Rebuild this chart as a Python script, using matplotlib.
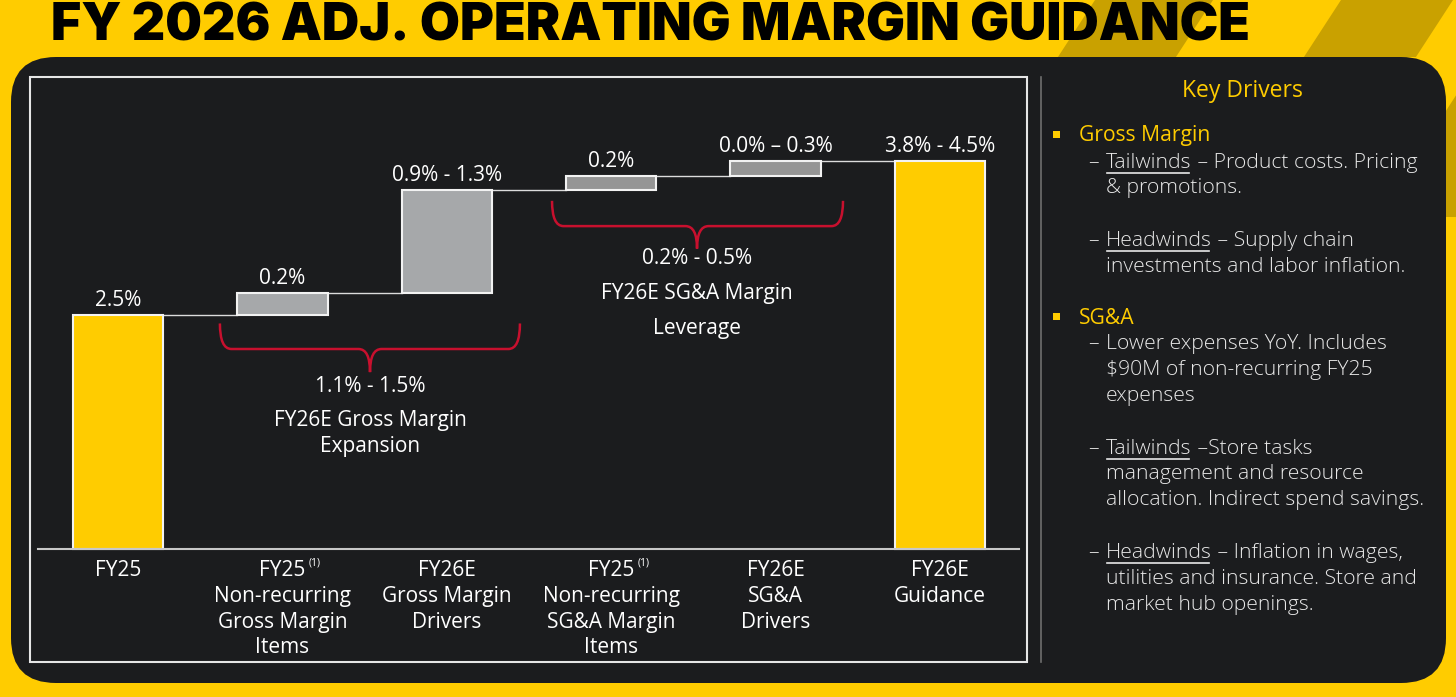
import matplotlib.pyplot as plt
from matplotlib.patches import FancyBboxPatch, Rectangle, Polygon, PathPatch
from matplotlib.path import Path
import matplotlib.transforms as mtransforms

#data
categories = ['FY25', 'FY25\nNon-recurring\nGross Margin\nItems', 'FY26E\nGross Margin\nDrivers',
              'FY25\nNon-recurring\nSG&A Margin\nItems', 'FY26E\nSG&A\nDrivers', 'FY26E\nGuidance']
footnoted = [False, True, False, True, False, False]
start_value = 2.5
deltas = [0.235, 1.10, 0.15, 0.16]
value_labels = ['2.5%', '0.2%', '0.9% - 1.3%', '0.2%', '0.0% \u2013 0.3%', '3.8% - 4.5%']
group_labels = [('1.1% - 1.5%', 'FY26E Gross Margin', 'Expansion'),
                ('0.2% - 0.5%', 'FY26E SG&A Margin', 'Leverage')]

W, H = 1456, 697
YELLOW = '#FFCC00'
DARKYEL = '#C9A100'
PANEL = '#1b1c1e'
RED = '#C8102E'
FONT = 'Open Sans'

fig = plt.figure(figsize=(W/100, H/100), dpi=100, facecolor=YELLOW)

#background axes in pixel units
bg = fig.add_axes([0, 0, 1, 1])
bg.set_xlim(0, W)
bg.set_ylim(H, 0)
bg.axis('off')

#diagonal stripes top right
s = 0.65
for xa, xb in [(1095, 1213), (1341, 1453), (1518, 1597)]:
    bg.add_patch(Polygon([(xa, 0), (xb, 0), (xb - s*H, H), (xa - s*H, H)],
                         closed=True, facecolor=DARKYEL, edgecolor='none', zorder=0))
#plain yellow below the top band, except the right strip
bg.add_patch(Rectangle((0, 57), 1446, H, facecolor=YELLOW, edgecolor='none', zorder=0.5))
bg.add_patch(Rectangle((1446, 217), 20, H, facecolor=YELLOW, edgecolor='none', zorder=0.5))

bg.add_patch(FancyBboxPatch((11, 57), 1435, 626, boxstyle='round,pad=0,rounding_size=45',
                            facecolor=PANEL, edgecolor='none', zorder=1))

bg.text(51, 27, 'FY 2026 ADJ. OPERATING MARGIN GUIDANCE', fontsize=37.3, fontweight='black',
        family=['Inter', 'DejaVu Sans'], color='black', va='center', ha='left', zorder=2)

#chart frame + separator
bg.add_patch(Rectangle((30, 77), 997, 585, facecolor='none', edgecolor='#e6e6e6', lw=1.5, zorder=2))
bg.plot([1041, 1041], [77, 662], color='#6e6e6e', lw=1.2, zorder=2)

#waterfall axes
ax = fig.add_axes([30/W, 35/H, 997/W, 585/H])
ax.set_facecolor('none')
ax.set_xlim(-0.535, 5.529)
ax.set_ylim(-1.207, 5.043)
ax.axis('off')

bottoms = [0]
heights = [start_value]
run = start_value
for d in deltas:
    bottoms.append(run)
    heights.append(d)
    run += d
bottoms.append(0)
heights.append(run)

colors = [YELLOW, '#A6A8AA', '#A6A8AA', '#959595', '#959595', YELLOW]
x = list(range(len(categories)))
bw = 0.55
ax.bar(x, heights, bottom=bottoms, width=bw, color=colors, edgecolor='#f2f2f2', linewidth=1.5, zorder=3)

#connectors
tops = [b + h for b, h in zip(bottoms, heights)]
for i in range(len(x) - 1):
    ax.plot([x[i] + bw/2, x[i+1] - bw/2], [tops[i], tops[i]], color='#dcdcdc', lw=1, zorder=2)

ax.axhline(0, xmin=0.008, xmax=0.992, color='#c8c8c8', lw=1.5, zorder=4)

for i, lab in enumerate(value_labels):
    ax.annotate(lab, (x[i], tops[i]), xytext=(0, 3), textcoords='offset points', ha='center',
                va='bottom', color='white', fontsize=15, family=FONT)

#category labels: first line separately so the footnote mark sits next to it
line_h = 26 / 93.6
for i, cat in enumerate(categories):
    first, _, rest = cat.partition('\n')
    ax.text(x[i], -0.12, first, ha='center', va='top', color='white', fontsize=15, family=FONT)
    if rest:
        ax.text(x[i], -0.12 - line_h, rest, ha='center', va='top', color='white', fontsize=15,
                family=FONT, linespacing=1.27)
    if footnoted[i]:
        tr = mtransforms.offset_copy(ax.transData, fig=fig, x=19, y=2, units='points')
        ax.text(x[i], -0.12, '(1)', transform=tr, ha='left', va='top', color='white',
                fontsize=7.5, family=FONT)

#curly brackets
def brace(x0, x1, xm, ytop, yh, ytip, rx):
    verts = [(x0, ytop), (x0, yh), (x0 + rx, yh), (xm - rx, yh), (xm, yh), (xm, ytip),
             (xm, ytip), (xm, yh), (xm + rx, yh), (x1 - rx, yh), (x1, yh), (x1, ytop)]
    codes = [Path.MOVETO, Path.CURVE3, Path.CURVE3, Path.LINETO, Path.CURVE3, Path.CURVE3,
             Path.MOVETO, Path.CURVE3, Path.CURVE3, Path.LINETO, Path.CURVE3, Path.CURVE3]
    ax.add_patch(PathPatch(Path(verts, codes), facecolor='none', edgecolor=RED, lw=1.8, zorder=3))

brace(0.62, 2.445, 1.533, 2.41, 2.137, 1.89, 0.07)
brace(2.64, 4.41, 3.522, 3.72, 3.45, 3.21, 0.07)

for gx, ys, labs in [(1.533, (1.741, 1.368, 1.10), group_labels[0]),
                     (3.522, (3.109, 2.735, 2.361), group_labels[1])]:
    for yy, t in zip(ys, labs):
        ax.text(gx, yy, t, ha='center', va='center', color='white', fontsize=15, family=FONT)

#key drivers panel
bg.text(1242, 91, 'Key Drivers', ha='center', va='center', color=YELLOW, fontsize=16.5,
        family=FONT, zorder=3)

renderer = fig.canvas.get_renderer()
TXT = '#e8e8e8'
FS = 15.2

def line(y, parts, x0=1106):
    y += 2
    xx = x0
    for txt, ul in parts:
        t = bg.text(xx, y, txt, ha='left', va='center', color=TXT, fontsize=FS,
                    family=FONT, fontweight='light', zorder=3)
        w = t.get_window_extent(renderer).width
        if ul:
            bg.plot([xx + 1, xx + w - 3], [y + 10, y + 10], color=TXT, lw=1.2, zorder=3)
        xx += w

def dash(y):
    bg.text(1088, y + 2, '\u2013', ha='left', va='center', color=TXT, fontsize=FS,
            family=FONT, fontweight='light', zorder=3)

def bullet(y, label):
    bg.add_patch(Rectangle((1053, y - 3), 7, 7, facecolor=YELLOW, edgecolor='none', zorder=3))
    bg.text(1079, y + 2, label, ha='left', va='center', color=YELLOW, fontsize=15.2,
            family=FONT, zorder=3)

bullet(134, 'Gross Margin')
dash(161); line(161, [('Tailwinds', True), (' \u2013 Product costs. Pricing', False)])
line(186, [('& promotions.', False)])
dash(239); line(239, [('Headwinds', True), (' \u2013 Supply chain', False)])
line(265, [('investments and labor inflation.', False)])
bullet(316, 'SG&A')
dash(342); line(342, [('Lower expenses YoY. Includes', False)])
line(368, [(r'\$90M of non-recurring FY25', False)])
line(394, [('expenses', False)])
dash(447); line(447, [('Tailwinds', True), (' \u2013Store tasks', False)])
line(472, [('management and resource', False)])
line(498, [('allocation. Indirect spend savings.', False)])
dash(551); line(551, [('Headwinds', True), (' \u2013 Inflation in wages,', False)])
line(577, [('utilities and insurance. Store and', False)])
line(603, [('market hub openings.', False)])

fig.savefig('out.png', dpi=100, facecolor=YELLOW)
